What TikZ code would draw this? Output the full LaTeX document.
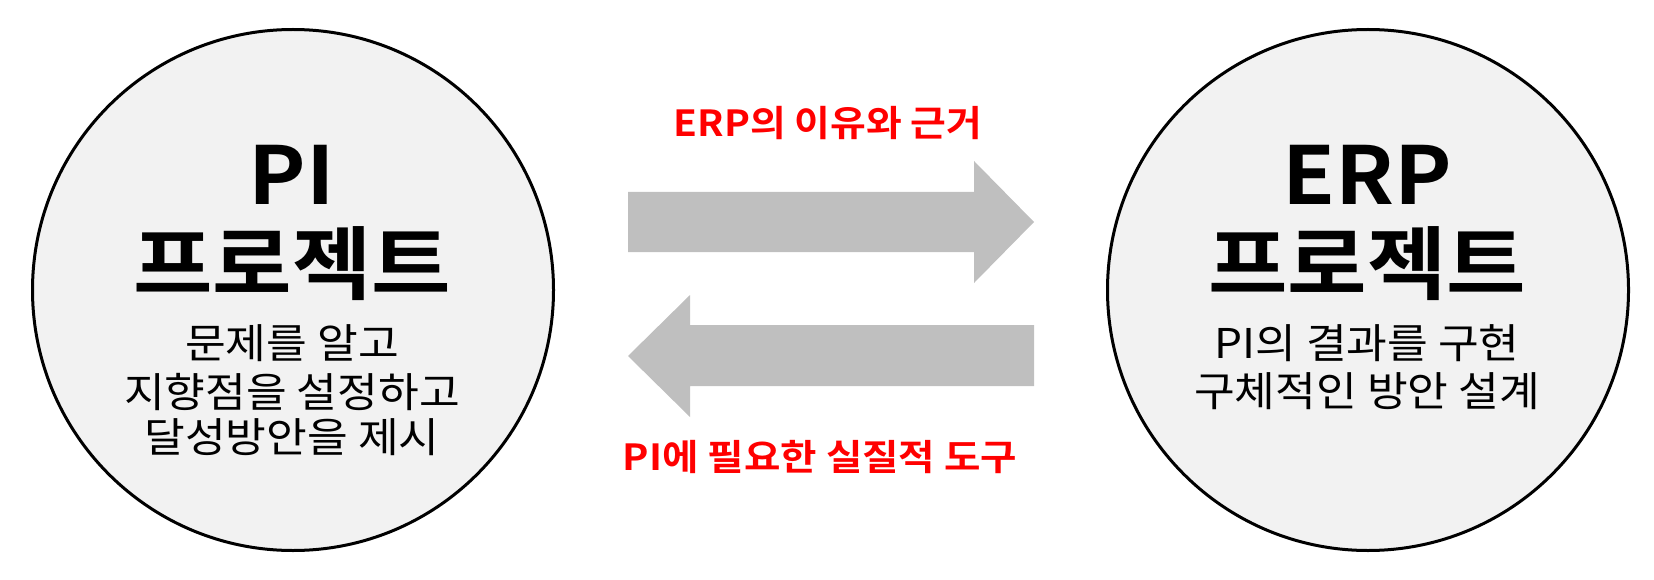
\documentclass[tikz,border=0pt]{standalone}
\usepackage{fontspec}
\setmainfont{Noto Sans CJK KR}[BoldFont={Noto Sans CJK KR Bold}]
\definecolor{cfill}{HTML}{F2F2F2}
\definecolor{agray}{HTML}{BFBFBF}
\definecolor{lred}{HTML}{FF0000}
\newcommand{\wide}[2][1.08]{\scalebox{#1}[1]{#2}}
\begin{document}
\begin{tikzpicture}[x=1pt,y=-1pt,
  proj/.style={circle,draw=black,line width=3pt,fill=cfill,minimum size=521pt,inner sep=0pt},
  title/.style={inner sep=0pt,font=\fontsize{80}{92}\selectfont\bfseries},
  sub/.style={inner sep=0pt,font=\fontsize{41}{49}\selectfont},
  lbl/.style={inner sep=0pt,text=lred,font=\fontsize{36}{43}\selectfont\bfseries},
  bigarrow/.style={fill=agray,draw=none}]
\useasboundingbox (0,0) rectangle (1654,580);
\node[proj] (L) at (293,290) {};
\node[proj] (R) at (1368,290) {};
% left circle text
\node[title] (Lt1) at (292,175) {\wide{PI}};
\node[title] (Lt2) at (292,264) {\wide{프로젝트}};
\node[sub] (Ls1) at (292,343) {\wide{문제를 알고}};
\node[sub] (Ls2) at (292,392) {\wide{지향점을 설정하고}};
\node[sub] (Ls3) at (292,437) {\wide{달성방안을 제시}};
% right circle text
\node[title] (Rt1) at (1367,175) {\wide{ERP}};
\node[title] (Rt2) at (1367,264) {\wide{프로젝트}};
\node[sub] (Rs1) at (1367,343) {\wide{PI의 결과를 구현}};
\node[sub] (Rs2) at (1367,391) {\wide{구체적인 방안 설계}};
% arrows
\fill[bigarrow] (628,192) -- (974,192) -- (974,161) -- (1034,222) -- (974,283) -- (974,252) -- (628,252) -- cycle;
\fill[bigarrow] (1034,325) -- (690,325) -- (690,295) -- (628,356) -- (690,417) -- (690,386) -- (1034,386) -- cycle;
% labels
\node[lbl] (top) at (828,123) {\wide{ERP의 이유와 근거}};
\node[lbl] (bot) at (820,457) {\wide[1.1]{PI에 필요한 실질적 도구}};
\end{tikzpicture}
\end{document}
